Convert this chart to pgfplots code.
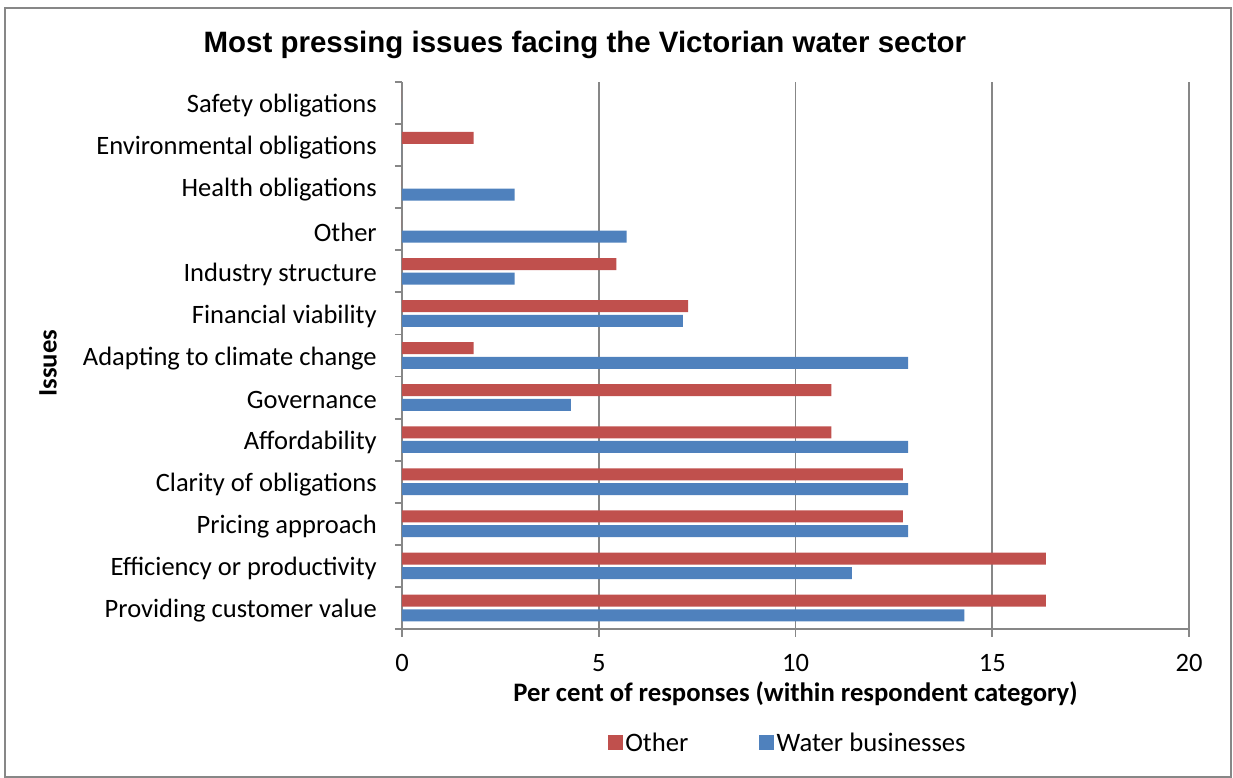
\documentclass[border=0pt]{standalone}
\usepackage{fontspec}
\setmainfont{Carlito}
\newfontfamily\titlefont{Liberation Sans}
\usepackage{pgfplots}
\pgfplotsset{compat=1.18}
\definecolor{redbar}{HTML}{C0504D}
\definecolor{bluebar}{HTML}{4F81BD}
\definecolor{axgray}{HTML}{878787}
\begin{document}
\begin{tikzpicture}
\useasboundingbox (0,0) rectangle (924.75pt,583.5pt);
\draw[axgray, line width=1.4pt] (3.75pt,0.75pt) rectangle (923.25pt,577.5pt);
\begin{axis}[
  at={(301.5pt,111.75pt)}, anchor=south west,
  scale only axis, width=590.25pt, height=410.25pt,
  xbar, bar width=9pt,
  xmin=0, xmax=20, ymin=-0.5, ymax=12.5,
  xtick={0,5,10,15,20},
  ytick={0,...,12},
  yticklabels={Providing customer value, Efficiency or productivity, Pricing approach, Clarity of obligations, Affordability, Governance, Adapting to climate change, Financial viability, Industry structure, Other, Health obligations, Environmental obligations, Safety obligations},
  minor ytick={-0.5,0.5,...,12.5},
  axis x line*=bottom, axis y line*=left,
  axis line style={axgray, line width=1.4pt},
  tick align=outside,
  major tick length=6pt, minor tick length=5.25pt,
  major y tick style={draw=none},
  minor y tick style={axgray, line width=1.4pt},
  major x tick style={axgray, line width=1.4pt},
  xmajorgrids, major grid style={axgray, line width=1.4pt},
  /pgf/number format/assume math mode=true,
  tick label style={font=\fontsize{19.9}{22}\selectfont, text=black},
  yticklabel style={inner sep=0pt, xshift=-12.75pt, yshift=-2pt},
  xticklabel style={inner sep=0pt, yshift=-13pt},
  xlabel={\bfseries Per cent of responses (within respondent category)},
  xlabel style={at={(0.5,-0.119)}, anchor=center, font=\fontsize{20}{22}\selectfont},
  ylabel={\bfseries Issues},
  ylabel style={at={(-0.4498,0.486)}, anchor=center, font=\fontsize{20}{22}\selectfont},
  title={Most pressing issues facing the Victorian water sector},
  title style={at={(0.2325,1.053)}, anchor=center, yshift=0pt, font=\titlefont\bfseries\fontsize{22.1}{24}\selectfont},
  legend style={at={(0.4905,-0.208)}, anchor=center, draw=none, legend columns=2,
    font=\fontsize{20}{22}\selectfont,
    /tikz/every even column/.append style={column sep=51pt}},
  reverse legend,
  legend image code/.code={\fill[#1] (0pt,-5.6pt) rectangle (11.2pt,5.6pt);},
]
\addplot[fill=bluebar, draw=none] coordinates {(14.29,0) (11.43,1) (12.86,2) (12.86,3) (12.86,4) (4.29,5) (12.86,6) (7.14,7) (2.86,8) (5.71,9) (2.86,10) (0,11) (0,12)};
\addlegendentry{Water businesses}
\addplot[fill=redbar, draw=none] coordinates {(16.36,0) (16.36,1) (12.73,2) (12.73,3) (10.91,4) (10.91,5) (1.82,6) (7.27,7) (5.45,8) (0,9) (0,10) (1.82,11) (0,12)};
\addlegendentry{Other}
\end{axis}
\end{tikzpicture}
\end{document}
